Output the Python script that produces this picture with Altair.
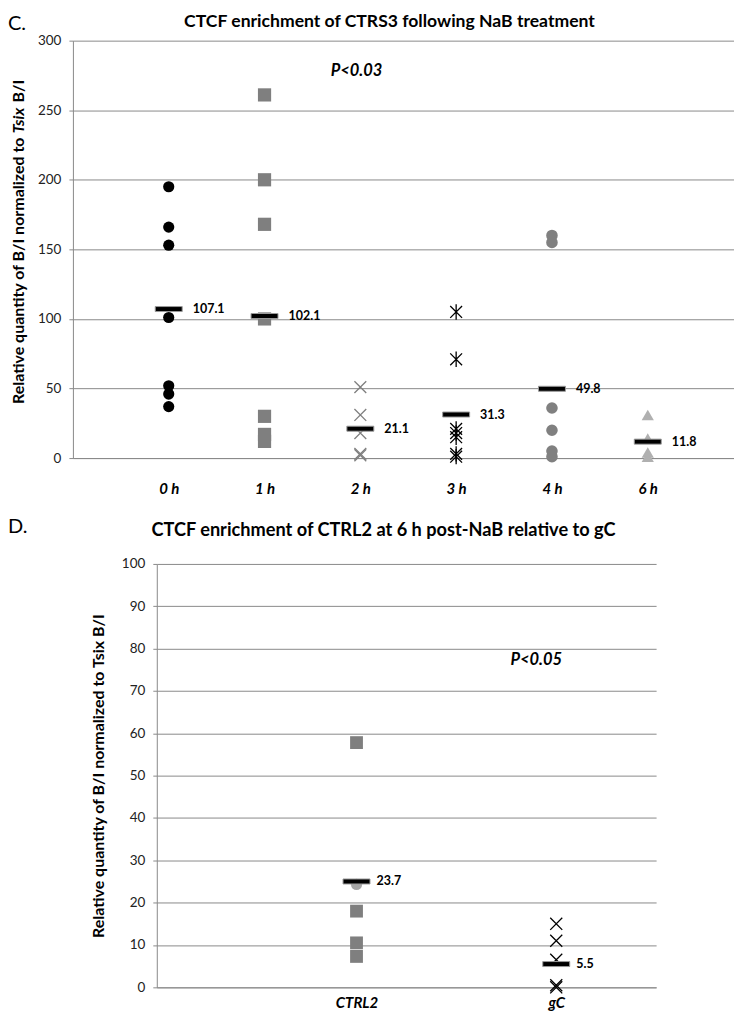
import altair as alt
import pandas as pd

FONT = "Lato"

# ---------------- Panel C data ----------------
c_labels = ["0 h", "1 h", "2 h", "3 h", "4 h", "6 h"]
c_pos = [1, 2, 3, 4, 5, 6]
c_0h = [195, 166, 153, 101, 52, 46, 37]
c_1h = [261, 200, 168, 100, 30, 17, 12]
c_2h = [51, 31, 18, 3, 2]
c_3h = [105, 71, 21, 18, 15, 3, 1]
c_4h = [160, 155, 36, 20, 5, 1]
c_6h = [31, 14, 4, 1]
c_medians = [107.1, 102.1, 21.1, 31.3, 49.8, 11.8]
c_median_text = ["107.1", "102.1", "21.1", "31.3", "49.8", "11.8"]
c_yticks = [0, 50, 100, 150, 200, 250, 300]

# ---------------- Panel D data ----------------
d_labels = ["CTRL2", "gC"]
d_pos = [1, 2]
d_ctrl2_squares = [57.8, 18, 10.5, 7.3]
d_ctrl2_circles = [24.3]
d_gc = [15, 11, 6.5, 0.5, 0]
d_medians = [25.0, 5.5]
d_median_text = ["23.7", "5.5"]
d_yticks = [0, 10, 20, 30, 40, 50, 60, 70, 80, 90, 100]

X_PATH = "M-1,-1L1,1M-1,1L1,-1"
AST_PATH = "M-1,-1L1,1M-1,1L1,-1M0,-1.3L0,1.3"

GRID = "#8a8a8a"
TITLE_C = "CTCF enrichment of CTRS3 following NaB treatment"
TITLE_D = "CTCF enrichment of CTRL2 at 6 h post-NaB relative to gC"
YTITLE = "Relative quantity of B/I normalized to Tsix B/I"


def label_expr(pos, labels):
    expr = "''"
    for p, l in reversed(list(zip(pos, labels))):
        expr = f"datum.value == {p} ? '{l}' : ({expr})"
    return expr


def points(x, values, shape, color, size, filled, xs, ys):
    df = pd.DataFrame({"x": [x] * len(values), "v": values})
    if filled:
        mk = alt.Chart(df).mark_point(shape=shape, filled=True, color=color,
                                      size=size, opacity=1)
    else:
        mk = alt.Chart(df).mark_point(shape=shape, filled=False, color=color,
                                      size=size, strokeWidth=1.3, opacity=1)
    return mk.encode(x=alt.X("x:Q", scale=xs), y=alt.Y("v:Q", scale=ys))


ann = pd.DataFrame({"a": [0]})


def note(text, x, y, **kw):
    return alt.Chart(ann).mark_text(font=FONT, color="#000", **kw).encode(
        x=alt.value(x), y=alt.value(y), text=alt.value(text))


def medians(df, xs, ys, dx):
    base = alt.Chart(df)
    bar = base.mark_tick(orient="horizontal", size=27, thickness=5,
                         color="#000", stroke="#9a9a9a", strokeWidth=1,
                         opacity=1).encode(
        x=alt.X("x:Q", scale=xs), y=alt.Y("m:Q", scale=ys))
    txt = base.mark_text(align="left", baseline="middle", dx=dx,
                         fontSize=12.5, fontWeight="bold", font=FONT,
                         color="#000").encode(
        x=alt.X("x:Q", scale=xs), y=alt.Y("m:Q", scale=ys), text="t:N")
    return [bar, txt]


def y_axis(ticks, **kw):
    return alt.Axis(values=ticks, grid=True, gridColor=GRID, domainColor=GRID,
                    tickColor=GRID, tickSize=4, labelPadding=8,
                    labelFontSize=13.5, labelFont=FONT, labelColor="#222", **kw)


def x_axis(pos, labels, pad):
    return alt.Axis(values=pos, labelExpr=label_expr(pos, labels), grid=False,
                    ticks=False, tickSize=0, domain=True, domainColor=GRID,
                    labelPadding=pad, labelFontSize=15, labelFont=FONT,
                    labelFontWeight="bold", labelFontStyle="italic",
                    labelColor="#000", title=None)


# ======================= Panel C =======================
W_C, H_C = 662, 418
xs_c = alt.Scale(domain=[0, 6.9], nice=False, zero=False)
ys_c = alt.Scale(domain=[0, 300], nice=False)

df_med_c = pd.DataFrame({"x": c_pos, "m": c_medians, "t": c_median_text})

axes_c = alt.Chart(df_med_c).mark_point(opacity=0).encode(
    x=alt.X("x:Q", scale=xs_c, axis=x_axis(c_pos, c_labels, 23.5)),
    y=alt.Y("m:Q", scale=ys_c, axis=y_axis(c_yticks, title=None)),
)

layers_c = [axes_c,
            points(c_pos[0], c_0h, "circle", "#000000", 125, True, xs_c, ys_c),
            points(c_pos[1], c_1h, "square", "#7f7f7f", 175, True, xs_c, ys_c),
            points(c_pos[2], c_2h, X_PATH, "#7f7f7f", 140, False, xs_c, ys_c),
            points(c_pos[3], c_3h, AST_PATH, "#000000", 140, False, xs_c, ys_c),
            points(c_pos[4], c_4h, "circle", "#808080", 135, True, xs_c, ys_c),
            points(c_pos[5], c_6h, "triangle-up", "#b0b0b0", 150, True, xs_c, ys_c)]

texts_c = [
    note(TITLE_C, 317, -19, fontSize=17.6, fontWeight="bold", align="center",
         baseline="middle"),
    note("C.", -65, -17, fontSize=20, align="left", baseline="middle"),
    note("P<0.03", 284, 30, fontSize=16.5, fontWeight="bold", fontStyle="italic",
         baseline="middle"),
    note("Relative quantity of B/I normalized to", -54, 97, fontSize=16,
         fontWeight="bold", angle=270, align="right", baseline="middle"),
    note("Tsix", -54, 80, fontSize=16, fontWeight="bold", fontStyle="italic",
         angle=270, align="center", baseline="middle"),
    note("B/I", -54, 62, fontSize=16, fontWeight="bold", angle=270,
         align="left", baseline="middle"),
]

top = alt.layer(*layers_c, *medians(df_med_c, xs_c, ys_c, 24), *texts_c).properties(
    width=W_C, height=H_C)

# ======================= Panel D =======================
W_D, H_D = 500, 424
xs_d = alt.Scale(domain=[0, 2.5], nice=False, zero=False)
ys_d = alt.Scale(domain=[0, 100], nice=False)

df_med_d = pd.DataFrame({"x": d_pos, "m": d_medians, "t": d_median_text})

axes_d = alt.Chart(df_med_d).mark_point(opacity=0).encode(
    x=alt.X("x:Q", scale=xs_d, axis=x_axis(d_pos, d_labels, 8)),
    y=alt.Y("m:Q", scale=ys_d,
            axis=y_axis(d_yticks, title=YTITLE, titleFont=FONT, titleFontSize=16,
                        titleFontWeight="bold", titleColor="#000",
                        titlePadding=15)),
)

layers_d = [axes_d,
            points(d_pos[0], d_ctrl2_circles, "circle", "#a6a6a6", 125, True, xs_d, ys_d),
            points(d_pos[0], d_ctrl2_squares, "square", "#7f7f7f", 165, True, xs_d, ys_d),
            points(d_pos[1], d_gc, X_PATH, "#000000", 145, False, xs_d, ys_d)]

texts_d = [
    note(TITLE_D, 227, -33, fontSize=18.2, fontWeight="bold", align="center",
         baseline="middle"),
    note("P<0.05", 380, 96, fontSize=16.5, fontWeight="bold", fontStyle="italic",
         baseline="middle"),
]

bottom = alt.layer(*layers_d, *medians(df_med_d, xs_d, ys_d, 20), *texts_d).properties(
    width=W_D, height=H_D)

# narrow spacer column carrying the panel letter "D."
spacer = alt.layer(
    alt.Chart(ann).mark_point(opacity=0, size=1).encode(
        x=alt.value(16), y=alt.value(0)),
    note("D.", -65, -37, fontSize=20, align="left", baseline="middle"),
).properties(width=16, height=1)

chart = alt.vconcat(
    top,
    alt.hconcat(spacer, bottom, spacing=0),
    spacing=20,
).properties(padding={"top": 4, "left": 0, "right": 0, "bottom": 0}).configure_view(
    stroke=None).configure_axis(domainWidth=1, gridWidth=1)

chart.save("out.html", embed_options={"renderer": "svg", "actions": False})
